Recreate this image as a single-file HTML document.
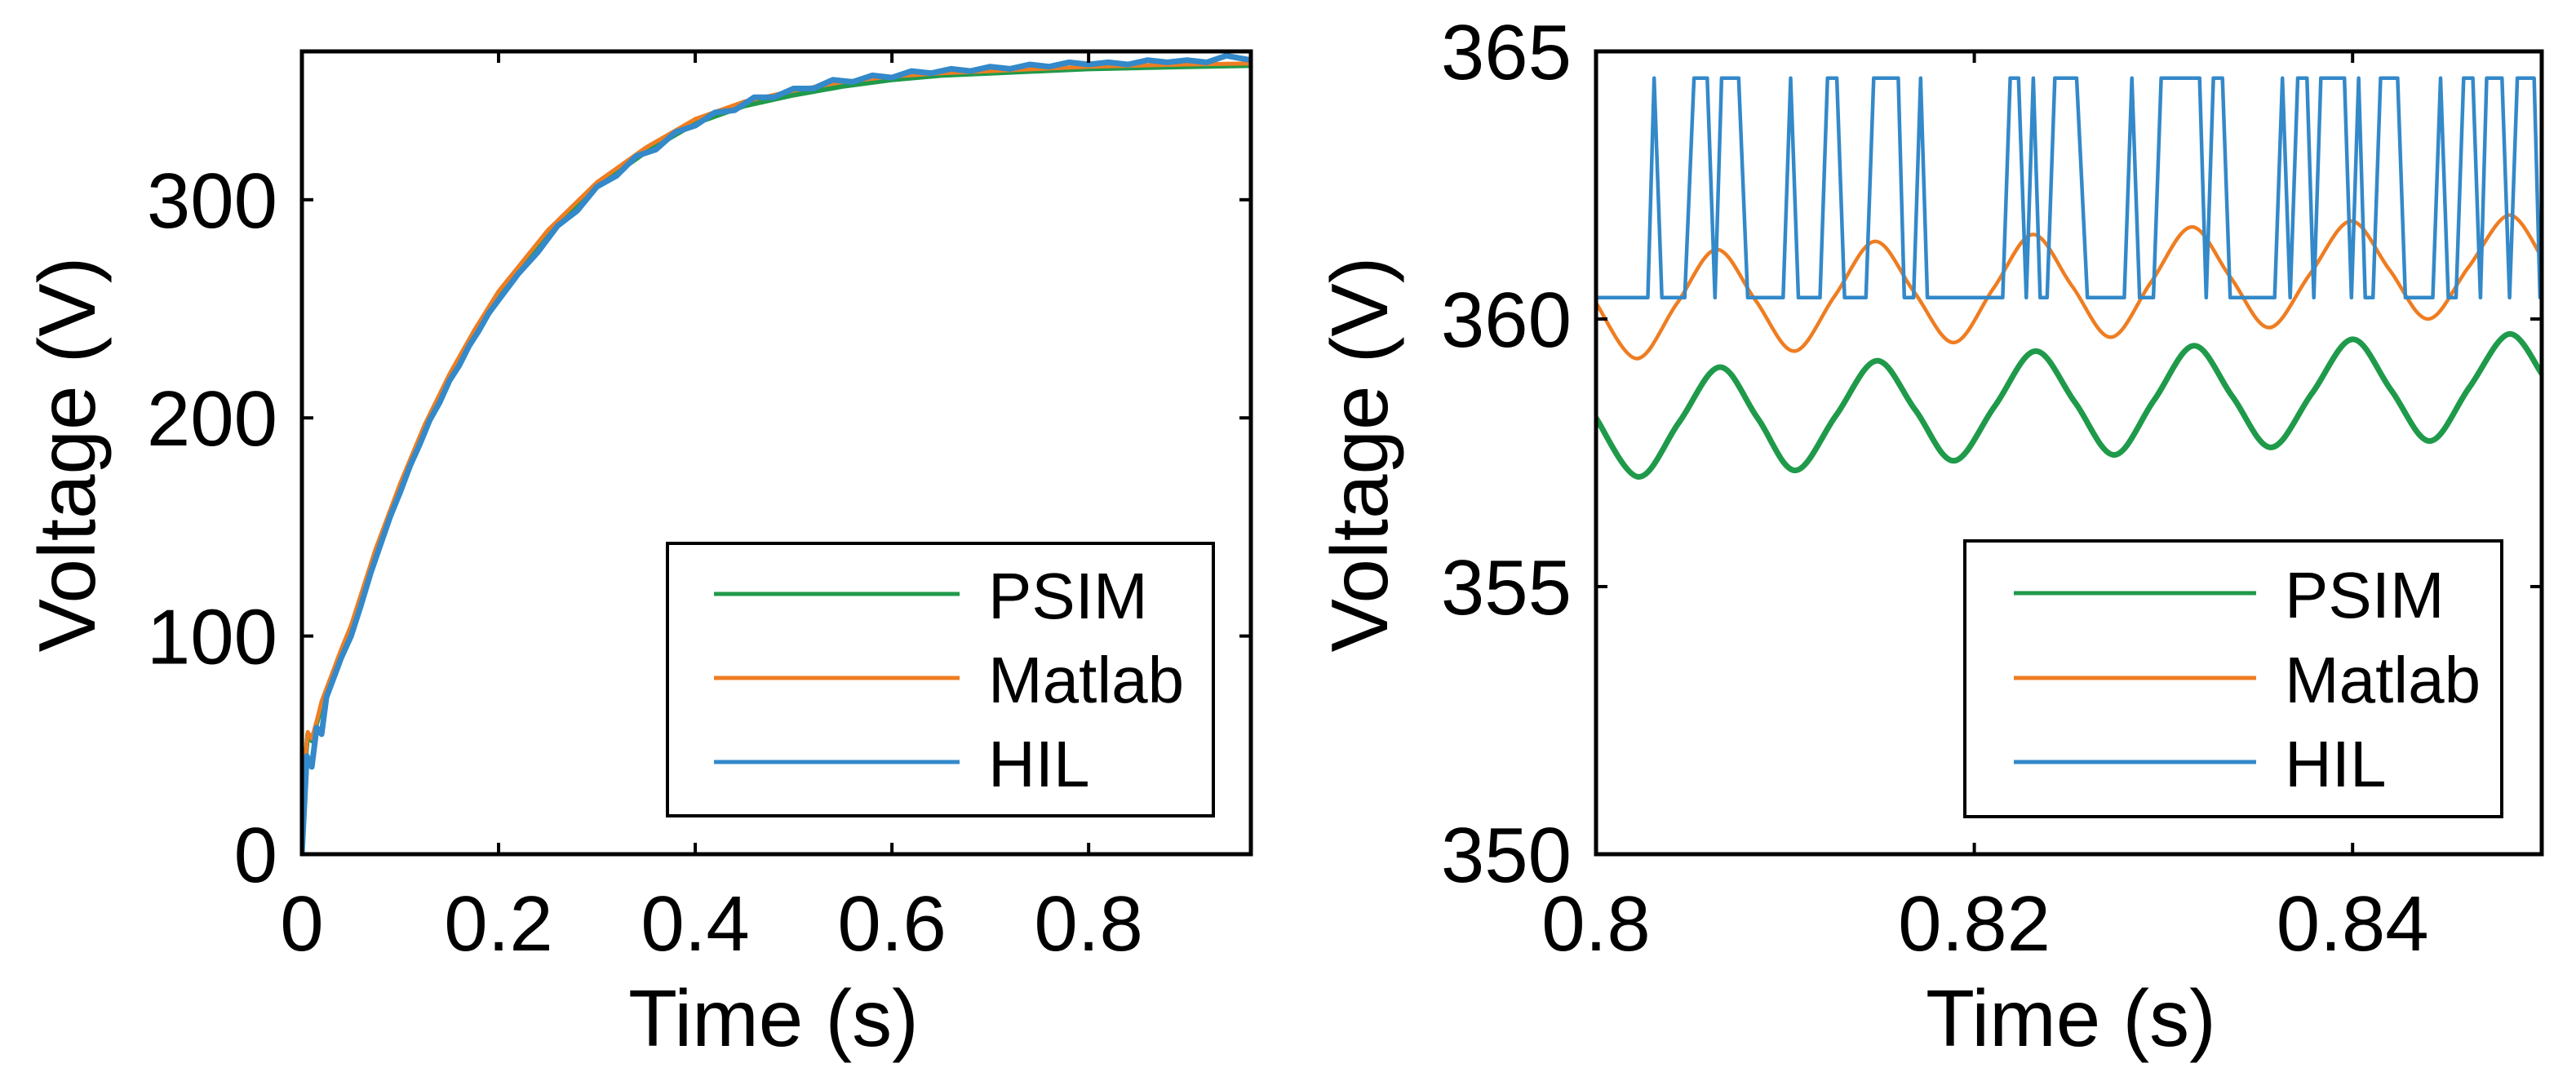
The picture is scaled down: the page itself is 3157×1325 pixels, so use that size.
<!DOCTYPE html>
<html><head><meta charset="utf-8"><style>
html,body{margin:0;padding:0;background:#fff;}
svg{display:block;font-family:"Liberation Sans",Arial,sans-serif;}
</style></head>
<body>
<svg id="fig" width="3157" height="1325" viewBox="0 0 3157 1325" xmlns="http://www.w3.org/2000/svg"></svg>
<script>
// ---- Left chart data ----
const leftT = [0,0.003,0.006,0.01,0.015,0.02,0.03,0.04,0.05,0.075,0.1,0.125,0.15,0.175,0.2,0.25,0.3,0.35,0.4,0.45,0.5,0.55,0.6,0.65,0.7,0.8,0.9,0.965];
const leftPSIM = [0,40,55,52,60,68,80,92,102,138,168,195,218,238,256,284,306,322,335,343,348,352,355,357,358,360,361,361.5];
const leftMatlab = [0,42,56,53,61,70,82,94,105,140,170,197,220,240,258,286,308,324,337,345,350,354,356.5,358,359,361,362,362.5];
const hilT = [0,0.005,0.01,0.015,0.02,0.025,0.03,0.04,0.05,0.06,0.07,0.08,0.09,0.10,0.11,0.12,0.13,0.14,0.15,0.16,0.17,0.18,0.19,0.20,0.22,0.24,0.26,0.28,0.30,0.32,0.34,0.36,0.38,0.40,0.42,0.44,0.46,0.48,0.50,0.52,0.54,0.56,0.58,0.60,0.62,0.64,0.66,0.68,0.70,0.72,0.74,0.76,0.78,0.80,0.82,0.84,0.86,0.88,0.90,0.92,0.94,0.965];
const hilV = [0,45,40,58,55,72,78,90,100,114,129,142,155,166,178,188,199,207,217,224,233,240,248,254,266,276,288,295,306,311,320,323,331,334,340,341,347,347,351,351,355,354,357,356,359,358,360,359,361,360,362,361,363,362,363,362,364,363,364,363,366,364];
const leftXTicks = [0,0.2,0.4,0.6,0.8];
const leftXTickLabels = ["0","0.2","0.4","0.6","0.8"];
const leftYTicks = [0,100,200,300];
const leftYTickLabels = ["0","100","200","300"];

// ---- Right chart data ----
const rightPSIMT = [0.8,0.80224,0.80439,0.80654,0.80854,0.81054,0.81269,0.81484,0.81688,0.81892,0.82108,0.82323,0.82531,0.8274,0.8295,0.83161,0.83365,0.8357,0.83785,0.84,0.84204,0.84409,0.84617,0.84826,0.85];
const rightPSIMV = [358.15,357.05,358.07,359.1,358.15,357.17,358.2,359.22,358.3,357.35,358.37,359.4,358.45,357.46,358.48,359.5,358.55,357.6,358.61,359.62,358.67,357.72,358.72,359.72,358.98];
const rightMatlabT = [0.8,0.80215,0.80426,0.80637,0.80843,0.81049,0.81262,0.81475,0.81683,0.81892,0.82101,0.8231,0.82516,0.82723,0.82935,0.83148,0.83354,0.8356,0.83775,0.83991,0.84195,0.844,0.84613,0.84826,0.85];
const rightMatlabV = [360.3,359.26,360.28,361.3,360.35,359.4,360.43,361.45,360.5,359.56,360.57,361.58,360.62,359.66,360.69,361.72,360.78,359.84,360.84,361.83,360.92,360.0,360.97,361.94,361.16];
const rightHILT = [0.8,0.80274,0.80307,0.80348,0.80469,0.80518,0.80588,0.80629,0.80664,0.80754,0.80802,0.80989,0.81029,0.8107,0.81184,0.81224,0.81273,0.81314,0.81427,0.81468,0.81598,0.8163,0.81679,0.81716,0.81752,0.8215,0.8219,0.82234,0.82275,0.82312,0.82348,0.82385,0.82426,0.82541,0.82598,0.82793,0.82833,0.82874,0.82947,0.82988,0.83191,0.83226,0.83264,0.83312,0.83353,0.83588,0.83629,0.8367,0.8371,0.83759,0.83795,0.83832,0.83957,0.83994,0.84032,0.84067,0.84108,0.84148,0.84238,0.84279,0.84424,0.84465,0.84506,0.84547,0.84587,0.84636,0.84676,0.84709,0.8479,0.8483,0.84871,0.8496,0.84991,0.85];
const rightHILV = [360.4,360.4,364.5,360.4,360.4,364.5,364.5,360.4,364.5,364.5,360.4,360.4,364.5,360.4,360.4,364.5,364.5,360.4,360.4,364.5,364.5,360.4,360.4,364.5,360.4,360.4,364.5,364.5,360.4,364.5,360.4,360.4,364.5,364.5,360.4,360.4,364.5,360.4,360.4,364.5,364.5,360.4,364.5,364.5,360.4,360.4,364.5,360.4,364.5,364.5,360.4,364.5,364.5,360.4,364.5,360.4,360.4,364.5,364.5,360.4,360.4,364.5,360.4,360.4,364.5,364.5,360.4,364.5,364.5,360.4,364.5,364.5,360.4,360.4];
const rightXTicks = [0.8,0.82,0.84];
const rightXTickLabels = ["0.8","0.82","0.84"];
const rightYTicks = [350,355,360,365];
const rightYTickLabels = ["350","355","360","365"];

const legendNames = ["PSIM","Matlab","HIL"];
const COLORS = {PSIM:"#1f9a4a", Matlab:"#ee7d22", HIL:"#3389c9"};

const NS = "http://www.w3.org/2000/svg";
const svg = document.getElementById('fig');
function mk(tag, attrs, parent){
  const e = document.createElementNS(NS, tag);
  for (const k in attrs) e.setAttribute(k, attrs[k]);
  (parent||svg).appendChild(e);
  return e;
}
function scale(d0,d1,r0,r1){ return v => r0 + (v-d0)/(d1-d0)*(r1-r0); }
function linePath(xs, ys, sx, sy){
  return xs.map((t,i)=>(i?'L':'M')+sx(t).toFixed(1)+','+sy(ys[i]).toFixed(1)).join(' ');
}
function smoothPath(xs, ys, sx, sy){
  const P = xs.map((t,i)=>[sx(t), sy(ys[i])]);
  let d = 'M'+P[0][0].toFixed(1)+','+P[0][1].toFixed(1);
  for (let i=0;i<P.length-1;i++){
    const p0 = P[Math.max(0,i-1)], p1 = P[i], p2 = P[i+1], p3 = P[Math.min(P.length-1,i+2)];
    const c1 = [p1[0]+(p2[0]-p0[0])/6, p1[1]+(p2[1]-p0[1])/6];
    const c2 = [p2[0]-(p3[0]-p1[0])/6, p2[1]-(p3[1]-p1[1])/6];
    d += ' C'+c1.map(v=>v.toFixed(1)).join(',')+' '+c2.map(v=>v.toFixed(1)).join(',')+' '+p2[0].toFixed(1)+','+p2[1].toFixed(1);
  }
  return d;
}

function drawAxes(g, box, sx, sy, xt, xtl, yt, ytl, prefix){
  const [L,T,R,B] = box;
  xt.forEach((v,i)=>{
    const x = sx(v);
    const tk = mk('line',{x1:x,y1:B,x2:x,y2:B-14,stroke:'#000','stroke-width':4},g);
    
    
    const tk2 = mk('line',{x1:x,y1:T,x2:x,y2:T+14,stroke:'#000','stroke-width':4},g);
    
    
    const lb = mk('text',{x:x,y:1165,'font-size':96,'text-anchor':'middle',fill:'#000'},g);
    lb.textContent = xtl[i];
    
    
  });
  yt.forEach((v,i)=>{
    const y = sy(v);
    const tk = mk('line',{x1:L,y1:y,x2:L+14,y2:y,stroke:'#000','stroke-width':4},g);
    
    
    const tk2 = mk('line',{x1:R,y1:y,x2:R-14,y2:y,stroke:'#000','stroke-width':4},g);
    
    
    const lb = mk('text',{x:L-30,y:y+34,'font-size':96,'text-anchor':'end',fill:'#000'},g);
    lb.textContent = ytl[i];
    
    
  });
}

function drawLegend(g, box, lineX0, lineX1, textX, rows, prefix){
  const [L,T,R,B] = box;
  const lg = mk('g',{},g);
  
  
  mk('rect',{x:L,y:T,width:R-L,height:B-T,fill:'#fff',stroke:'#000','stroke-width':4},lg);
  legendNames.forEach((n,i)=>{
    const e = mk('g',{},lg);
    
    
    mk('line',{x1:lineX0,y1:rows[i],x2:lineX1,y2:rows[i],stroke:COLORS[n],'stroke-width':5},e);
    const t = mk('text',{x:textX,y:rows[i]+30,'font-size':80,fill:'#000'},e);
    t.textContent = n;
  });
}

// ===== Left chart =====
(function(){
  const box = [370,63,1533,1047];
  const sx = scale(0,0.965,370,1533);
  const sy = scale(0,368,1047,63);
  const g = mk('g',{});
  
  
  const clip = mk('clipPath',{id:'clipL'},g);
  mk('rect',{x:370,y:63,width:1163,height:984},clip);
  const pg = mk('g',{'clip-path':'url(#clipL)'},g);
  const s1 = mk('path',{d:linePath(leftT,leftPSIM,sx,sy),fill:'none',stroke:COLORS.PSIM,'stroke-width':6,'stroke-linejoin':'round'},pg);
  
  
  const s2 = mk('path',{d:linePath(leftT,leftMatlab,sx,sy),fill:'none',stroke:COLORS.Matlab,'stroke-width':5,'stroke-linejoin':'round'},pg);
  
  
  const s3 = mk('path',{d:linePath(hilT,hilV,sx,sy),fill:'none',stroke:COLORS.HIL,'stroke-width':7,'stroke-linejoin':'round'},pg);
  
  
  const frame = mk('rect',{x:370,y:63,width:1163,height:984,fill:'none',stroke:'#000','stroke-width':5},g);
  
  
  drawAxes(g, box, sx, sy, leftXTicks, leftXTickLabels, leftYTicks, leftYTickLabels, 'left');
  drawLegend(g, [818,666,1487,1000], 875, 1176, 1211, [728,831,934], 'left');
  const xl = mk('text',{x:948,y:1282,'font-size':98,'text-anchor':'middle',fill:'#000'},g);
  xl.textContent = 'Time (s)';
  
  
  const yl = mk('text',{x:0,y:0,'font-size':98,'text-anchor':'middle',fill:'#000',transform:'translate(116,557) rotate(-90)'},g);
  yl.textContent = 'Voltage (V)';
  
  
})();

// ===== Right chart =====
(function(){
  const box = [1956,63,3115,1047];
  const sx = scale(0.8,0.85,1956,3115);
  const sy = scale(350,365,1047,63);
  const g = mk('g',{});
  
  
  const clip = mk('clipPath',{id:'clipR'},g);
  mk('rect',{x:1956,y:63,width:1159,height:984},clip);
  const pg = mk('g',{'clip-path':'url(#clipR)'},g);
  const s1 = mk('path',{d:smoothPath(rightPSIMT,rightPSIMV,sx,sy),fill:'none',stroke:COLORS.PSIM,'stroke-width':7},pg);
  
  
  const s2 = mk('path',{d:smoothPath(rightMatlabT,rightMatlabV,sx,sy),fill:'none',stroke:COLORS.Matlab,'stroke-width':4.5},pg);
  
  
  const s3 = mk('path',{d:linePath(rightHILT,rightHILV,sx,sy),fill:'none',stroke:COLORS.HIL,'stroke-width':4.5,'stroke-linejoin':'round'},pg);
  
  
  const frame = mk('rect',{x:1956,y:63,width:1159,height:984,fill:'none',stroke:'#000','stroke-width':5},g);
  
  
  drawAxes(g, box, sx, sy, rightXTicks, rightXTickLabels, rightYTicks, rightYTickLabels, 'right');
  drawLegend(g, [2408,663,3066,1001], 2468, 2765, 2800, [727,831,934], 'right');
  const xl = mk('text',{x:2538,y:1282,'font-size':98,'text-anchor':'middle',fill:'#000'},g);
  xl.textContent = 'Time (s)';
  
  
  const yl = mk('text',{x:0,y:0,'font-size':98,'text-anchor':'middle',fill:'#000',transform:'translate(1700,557) rotate(-90)'},g);
  yl.textContent = 'Voltage (V)';
  
  
})();
</script>
</body></html>
